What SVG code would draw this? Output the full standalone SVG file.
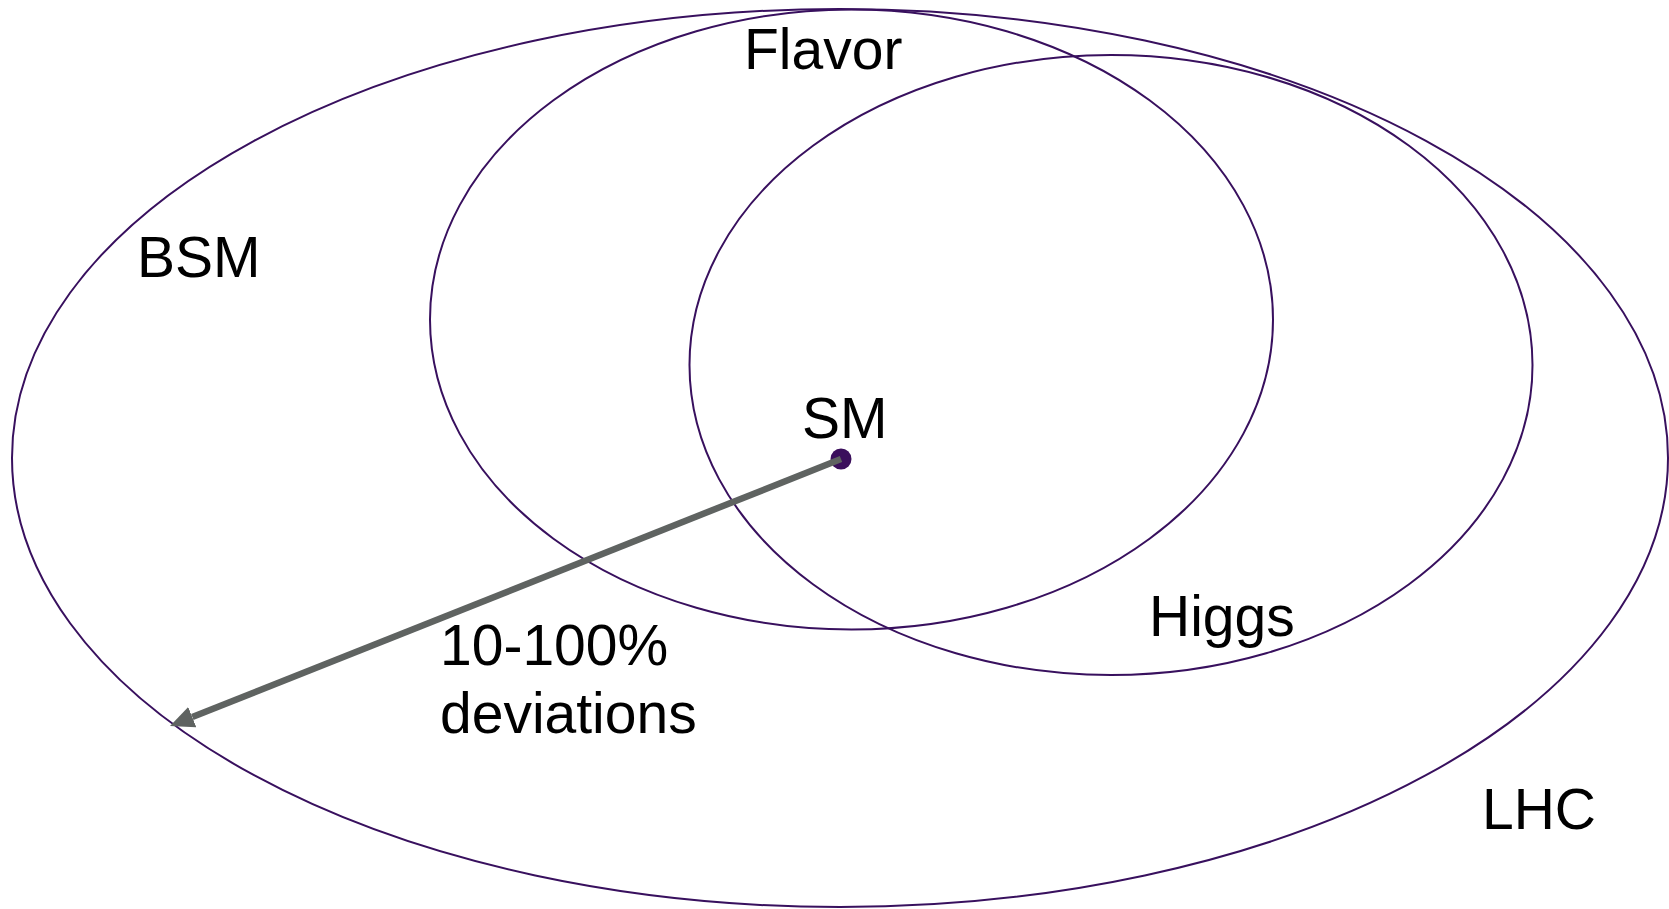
<svg xmlns="http://www.w3.org/2000/svg" width="1669" height="909" viewBox="0 0 1669 909">
  <style>
    .set { fill: none; stroke: #38105e; stroke-width: 2; }
    .label { font-family: "Liberation Sans", Arial, sans-serif; font-size: 57px; fill: #000; }
    .shift { stroke: #5f6361; stroke-width: 6.5; fill: none; }
  </style>
  <defs>
    <marker id="head" markerUnits="userSpaceOnUse" markerWidth="26" markerHeight="24" viewBox="0 -12 26 24" refX="0" refY="0" orient="auto">
      <path d="M0,-11 L24,0 L0,11 z" fill="#5f6361"/>
    </marker>
  </defs>
  <rect width="1669" height="909" fill="#fff"/>

  <!-- LHC reach (outer set) -->
  <g id="lhc">
    <ellipse class="set" cx="840" cy="458" rx="828" ry="449"/>
    <text class="label" x="1482" y="829">LHC</text>
  </g>

  <!-- flavor physics -->
  <g id="flavor">
    <ellipse class="set" cx="851.5" cy="319.5" rx="421.5" ry="310"/>
    <text class="label" x="744" y="69">Flavor</text>
  </g>

  <!-- Higgs physics -->
  <g id="higgs">
    <ellipse class="set" cx="1111" cy="365" rx="421.5" ry="310"/>
    <text class="label" x="1149" y="636">Higgs</text>
  </g>

  <g id="bsm">
    <text class="label" x="137" y="277">BSM</text>
  </g>

  <!-- Standard Model point -->
  <g id="sm">
    <ellipse cx="841" cy="459" rx="10.5" ry="10.5" fill="#3b0f5c"/>
    <text class="label" x="802" y="438">SM</text>
  </g>

  <!-- deviation arrow -->
  <g id="connectors">
    <line class="shift" x1="841" y1="459" x2="192.3" y2="717.1" marker-end="url(#head)"/>
  </g>

  <g id="deviation-label">
    <text class="label" x="440" y="665">10-100%</text>
    <text class="label" x="440" y="733">deviations</text>
  </g>
</svg>
